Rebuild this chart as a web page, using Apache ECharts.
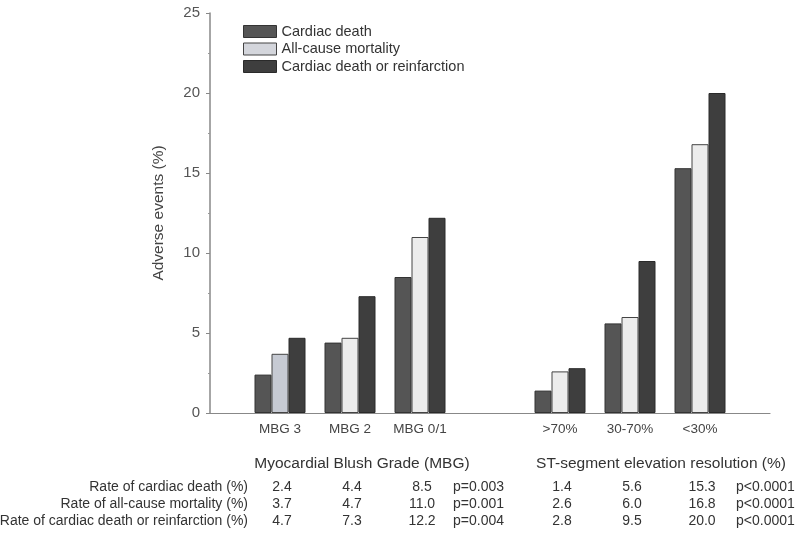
<!DOCTYPE html>
<html>
<head>
<meta charset="utf-8">
<script src="https://cdn.jsdelivr.net/npm/echarts@6/dist/echarts.min.js"></script>
<style>html,body{margin:0;padding:0;background:#fff;}#c{width:795px;height:533px;}</style>
</head>
<body>
<div id="c"></div>
<script>
const categories = ['', 'MBG 3', 'MBG 2', 'MBG 0/1', '', '>70%', '30-70%', '<30%', ''];
const cardiacDeath = [null, 2.4, 4.4, 8.5, null, 1.4, 5.6, 15.3, null];
const allCauseMortality = [null, 3.7, 4.7, 11.0, null, 2.6, 6.0, 16.8, null];
const cardiacDeathOrReinfarction = [null, 4.7, 7.3, 12.2, null, 2.8, 9.5, 20.0, null];
const seriesNames = ['Cardiac death', 'All-cause mortality', 'Cardiac death or reinfarction'];
const rowLabels = ['Rate of cardiac death (%)', 'Rate of all-cause mortality (%)', 'Rate of cardiac death or reinfarction (%)'];
const pValuesMBG = ['p=0.003', 'p=0.001', 'p=0.004'];
const pValuesST = ['p<0.0001', 'p<0.0001', 'p<0.0001'];
const groupTitles = ['Myocardial Blush Grade (MBG)', 'ST-segment elevation resolution (%)'];
const yMin = 0, yMax = 25, yInterval = 5;

const FONT = "'Liberation Sans', Arial, sans-serif";
const chart = echarts.init(document.getElementById('c'), null, {renderer: 'canvas'});

const allCauseData = allCauseMortality.map((v, i) => i === 1 ? {value: v, itemStyle: {color: '#c6cad3'}} : v);

chart.setOption({
  animation: false,
  backgroundColor: '#fff',
  textStyle: {fontFamily: FONT},
  grid: {left: 210, right: 25, top: 13, bottom: 120, containLabel: false},
  legend: {
    orient: 'vertical', left: 243, top: 24, padding: 0,
    itemWidth: 33, itemHeight: 12, itemGap: 2.5,
    icon: 'rect',
    textStyle: {fontSize: 14.5, color: '#333', fontFamily: FONT},
    data: [
      {name: seriesNames[0], itemStyle: {color: '#555', borderColor: '#333', borderWidth: 1}},
      {name: seriesNames[1], itemStyle: {color: '#d4d6dc', borderColor: '#444', borderWidth: 1}},
      {name: seriesNames[2], itemStyle: {color: '#3e3e3e', borderColor: '#2a2a2a', borderWidth: 1}}
    ]
  },
  xAxis: {
    type: 'category', data: categories, boundaryGap: false,
    axisLine: {lineStyle: {color: '#888', width: 1.2}},
    axisTick: {show: false},
    axisLabel: {fontSize: 13.5, color: '#444', margin: 9, interval: 0, fontFamily: FONT},
    splitLine: {show: false}
  },
  yAxis: {
    type: 'value', min: yMin, max: yMax, interval: yInterval,
    name: 'Adverse events (%)', nameLocation: 'middle', nameGap: 43,
    nameTextStyle: {fontSize: 15.5, color: '#444', fontFamily: FONT},
    axisLine: {show: true, lineStyle: {color: '#888', width: 1.5}},
    axisTick: {show: true, length: 4, lineStyle: {color: '#888'}},
    minorTick: {show: true, splitNumber: 2, length: 2, lineStyle: {color: '#999'}},
    axisLabel: {fontSize: 15, color: '#555', margin: 10, fontFamily: FONT},
    splitLine: {show: false}
  },
  series: [
    {name: seriesNames[0], type: 'bar', data: cardiacDeath, barWidth: 17, barGap: '0%',
     itemStyle: {color: '#555', borderColor: '#333', borderWidth: 1}},
    {name: seriesNames[1], type: 'bar', data: allCauseData, barWidth: 17, barGap: '0%',
     itemStyle: {color: '#ececec', borderColor: '#444', borderWidth: 1}},
    {name: seriesNames[2], type: 'bar', data: cardiacDeathOrReinfarction, barWidth: 17, barGap: '0%',
     itemStyle: {color: '#3e3e3e', borderColor: '#2a2a2a', borderWidth: 1}}
  ]
});

// Table under chart
const xs = categories.map((c, i) => chart.convertToPixel({xAxisIndex: 0}, i));
const rowsY = [487, 504, 521];
const rowsData = [cardiacDeath, allCauseMortality, cardiacDeathOrReinfarction];
const txtStyle = {fontSize: 14, fill: '#333', fontFamily: FONT};
const graphics = [];
graphics.push({type: 'text', x: 362, y: 464, style: Object.assign({}, txtStyle, {text: groupTitles[0], fontSize: 15.5, align: 'center', verticalAlign: 'middle'})});
graphics.push({type: 'text', x: 661, y: 464, style: Object.assign({}, txtStyle, {text: groupTitles[1], fontSize: 15.5, align: 'center', verticalAlign: 'middle'})});
rowsY.forEach((y, r) => {
  graphics.push({type: 'text', x: 248, y: y, style: Object.assign({}, txtStyle, {text: rowLabels[r], align: 'right', verticalAlign: 'middle'})});
  rowsData[r].forEach((v, i) => {
    if (v === null) return;
    graphics.push({type: 'text', x: xs[i] + 2, y: y, style: Object.assign({}, txtStyle, {text: v.toFixed(1), align: 'center', verticalAlign: 'middle'})});
  });
  graphics.push({type: 'text', x: 453, y: y, style: Object.assign({}, txtStyle, {text: pValuesMBG[r], align: 'left', verticalAlign: 'middle'})});
  graphics.push({type: 'text', x: 736, y: y, style: Object.assign({}, txtStyle, {text: pValuesST[r], align: 'left', verticalAlign: 'middle'})});
});
chart.setOption({graphic: graphics});
</script>
</body>
</html>
